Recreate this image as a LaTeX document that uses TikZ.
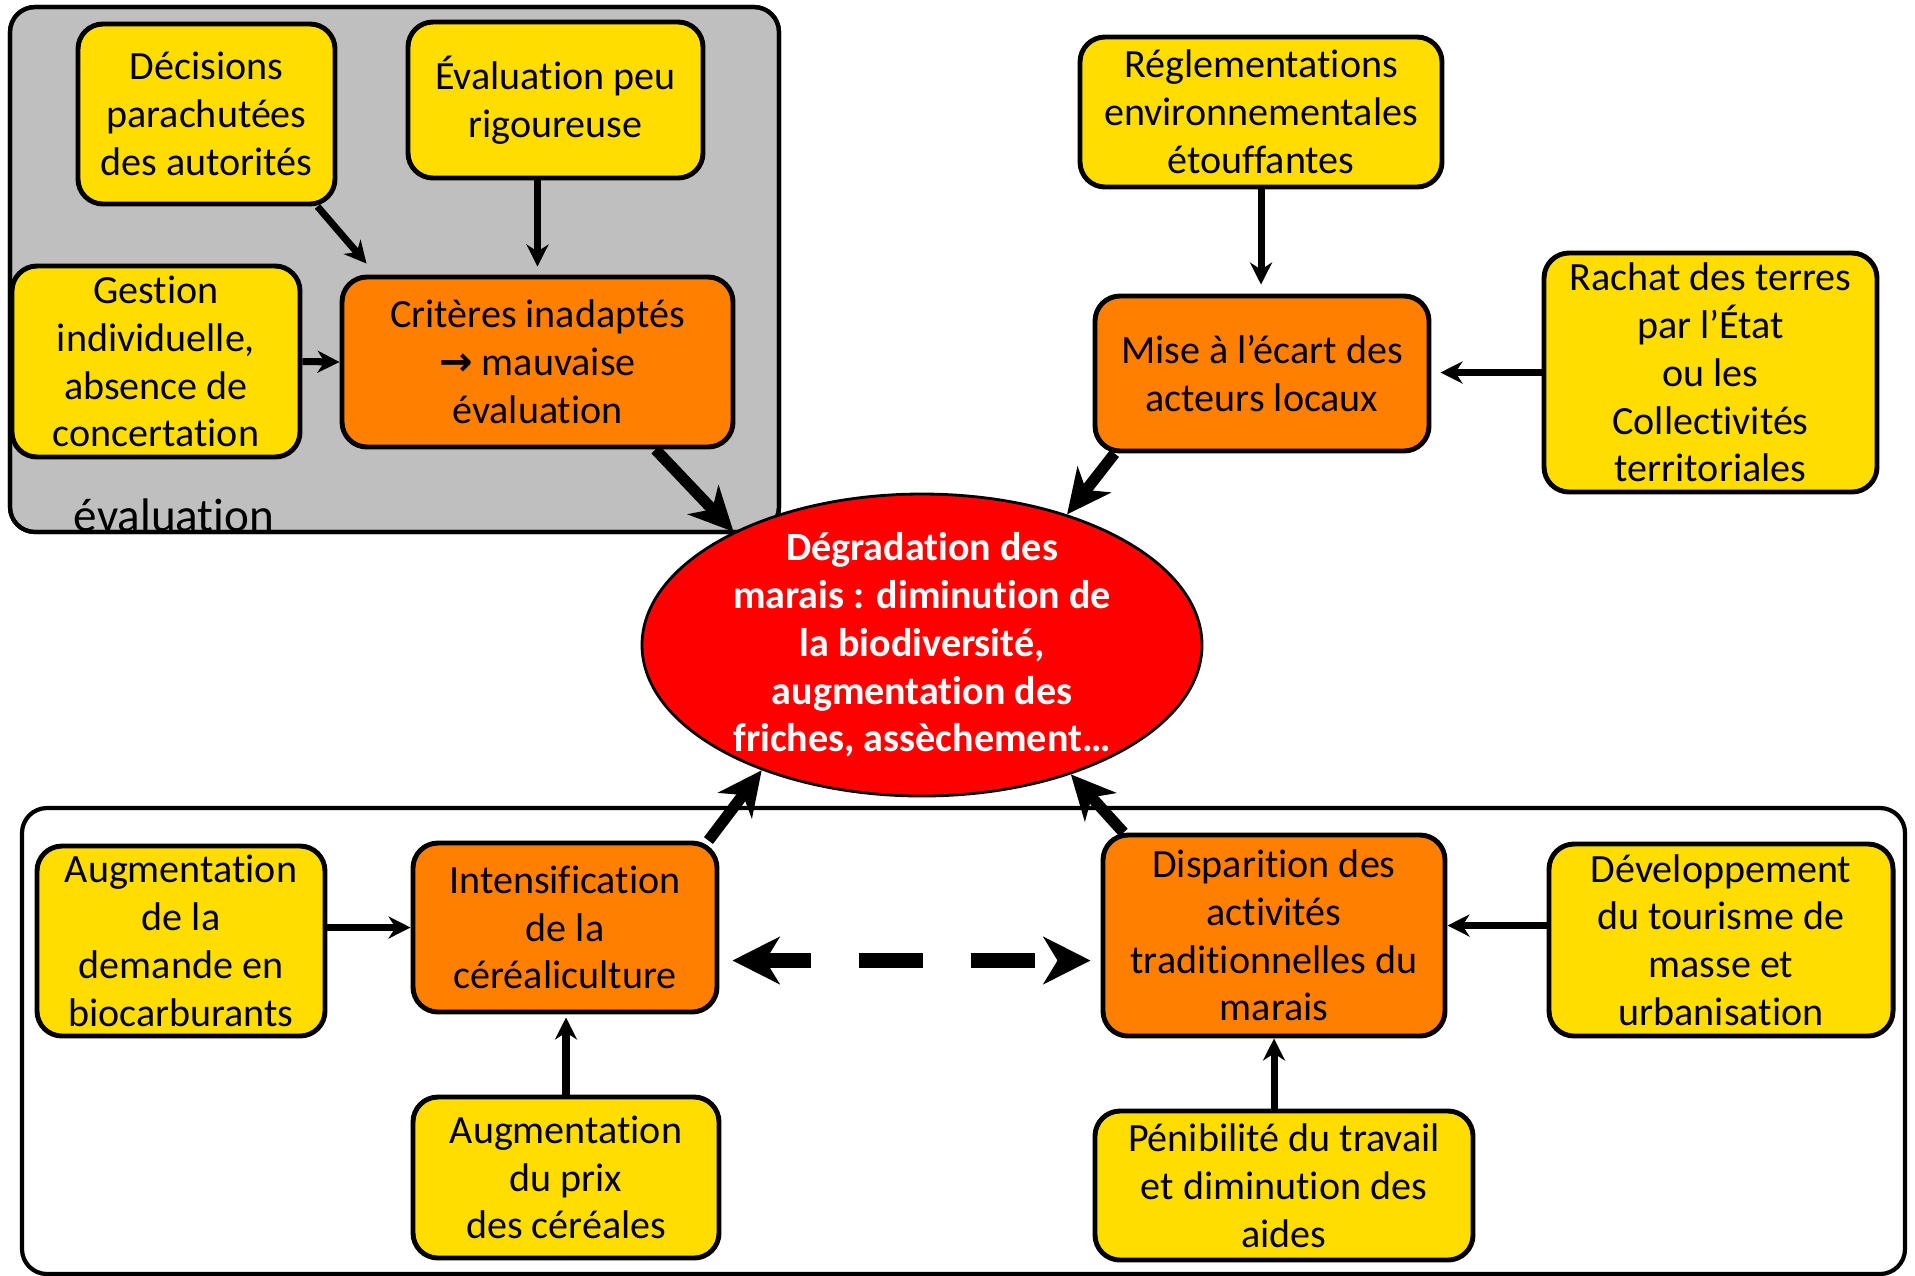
\documentclass[tikz,border=0pt]{standalone}
\usepackage{fontspec}
\setmainfont{Carlito}[Ligatures=NoCommon]
\newfontfamily\flechefont{DejaVu Sans}
\usetikzlibrary{arrows.meta,shapes.geometric}
\definecolor{jaune}{RGB}{255,221,0}
\definecolor{orangevif}{RGB}{255,128,0}
\definecolor{gris}{RGB}{191,191,191}
\definecolor{rouge}{RGB}{255,0,0}

\begin{document}
\begin{tikzpicture}[
	cause/.style={draw, line width=1.4pt, rounded corners=2.5mm, fill=jaune, align=center, inner sep=0pt, font=\fontsize{11.4}{13.6}\selectfont},
	effet/.style={cause, fill=orangevif},
	fleche/.style={-{Stealth[length=2.2mm,width=2.2mm,inset=0.7mm]}, line width=2pt},
	grosse/.style={-{Stealth[length=4.4mm,width=4.2mm,inset=1.3mm]}, line width=3.2pt}]
				\useasboundingbox (0,0) rectangle (19.15,-12.75);
				
				\draw[fill=gris, line width=1.2pt, rounded corners=2.5mm] (0.10,-0.07) rectangle (7.79,-5.32);
				\node (evallab) [anchor=base, font=\fontsize{13.4}{16}\selectfont] at (1.74,-5.31) {évaluation};
				\draw[line width=1.2pt, rounded corners=2.5mm] (0.10,-0.07) rectangle (7.79,-5.32);
				\draw[line width=1.2pt, rounded corners=2.5mm] (0.22,-8.08) rectangle (19.05,-12.74);
				
				\node (dec) [cause, minimum width=2.57cm, minimum height=1.80cm] at (2.065,-1.14) {Décisions\\parachutées\\des autorités};
				\node (eval) [cause, minimum width=2.95cm, minimum height=1.56cm] at (5.555,-1.00) {Évaluation peu\\rigoureuse};
				\node (gest) [cause, minimum width=2.88cm, minimum height=1.91cm] at (1.56,-3.615) {Gestion\\individuelle,\\absence de\\concertation};
				\node (crit) [effet, minimum width=3.91cm, minimum height=1.70cm] at (5.375,-3.62) {Critères inadaptés\\{\flechefont\bfseries →} mauvaise\\évaluation};
				
				\node (regl) [cause, minimum width=3.62cm, minimum height=1.50cm] at (12.61,-1.12) {Réglementations\\environnementales\\étouffantes};
				\node (mise) [effet, minimum width=3.34cm, minimum height=1.55cm] at (12.62,-3.735) {Mise à l’écart des\\acteurs locaux};
				\node (rachat) [cause, minimum width=3.33cm, minimum height=2.39cm] at (17.105,-3.725) {Rachat des terres\\par l’État\\ou les\\Collectivités\\territoriales};
				
				\node (degr) [ellipse, draw, line width=0.8pt, fill=rouge, minimum width=5.60cm, minimum height=3.02cm, inner sep=0pt] at (9.22,-6.45) {};
				\node (degrtxt) [align=center, text=white, font=\bfseries\fontsize{11.4}{13.6}\selectfont] at (degr.center) {Dégradation des\\marais : diminution de\\la biodiversité,\\augmentation des\\friches, assèchement…};
				
				\node (demande) [cause, minimum width=2.88cm, minimum height=1.90cm] at (1.81,-9.41) {Augmentation\\de la\\demande en\\biocarburants};
				\node (inten) [effet, minimum width=3.04cm, minimum height=1.69cm] at (5.65,-9.275) {Intensification\\de la\\céréaliculture};
				\node (prix) [cause, minimum width=3.06cm, minimum height=1.61cm] at (5.66,-11.775) {Augmentation\\du prix\\des céréales};
				\node (disp) [effet, minimum width=3.42cm, minimum height=2.01cm] at (12.74,-9.355) {Disparition des\\activités\\traditionnelles du\\marais};
				\node (dev) [cause, minimum width=3.44cm, minimum height=1.92cm] at (17.21,-9.40) {Développement\\du tourisme de\\masse et\\urbanisation};
				\node (pen) [cause, minimum width=3.78cm, minimum height=1.49cm] at (12.84,-11.855) {Pénibilité du travail\\et diminution des\\aides};
				
				\draw[fleche] ([xshift=-2mm]dec.south east) -- ([xshift=2.7mm,yshift=1.1mm]crit.north west);
				\draw[fleche, shorten >=0.8mm] (eval.south -| crit.north) -- (crit.north);
				\draw[fleche] (gest.east) -- (crit.west);
				\draw[grosse] ([xshift=-8mm]crit.south east) -- (degr.149);
				
				\draw[fleche, shorten >=0.9mm] (regl.south) -- (regl.south |- mise.north);
				\draw[fleche, shorten >=0.9mm] (rachat.west) -- (rachat.west -| mise.east);
				\draw[grosse] ([xshift=2.2mm]mise.south west) -- (degr.42);
				
				\draw[fleche] (demande.east |- inten.west) -- (inten.west);
				\draw[fleche, shorten >=0.3mm] (prix.north) -- (prix.north |- inten.south);
				\draw[grosse] ([xshift=-1.1mm]inten.north east) -- (degr.218);
				
				\draw[fleche] ([yshift=1mm]dev.west |- disp.east) -- ([yshift=1mm]disp.east);
				\draw[fleche] (pen.north -| disp.south) -- (disp.south);
				\draw[grosse] ([xshift=2.3mm]disp.north west) -- (degr.319);
				
				\draw[{Stealth[length=4.7mm,width=4.7mm,inset=1.4mm]}-{Stealth[length=4.7mm,width=4.7mm,inset=1.4mm]}, line width=4.5pt, dash pattern=on 6.4mm off 4.8mm, dash phase=1.6mm, shorten <=1.3mm, shorten >=1mm] ([yshift=-3.3mm]inten.east) -- ([yshift=-3.3mm]inten.east -| disp.west);
\end{tikzpicture}
\end{document}
